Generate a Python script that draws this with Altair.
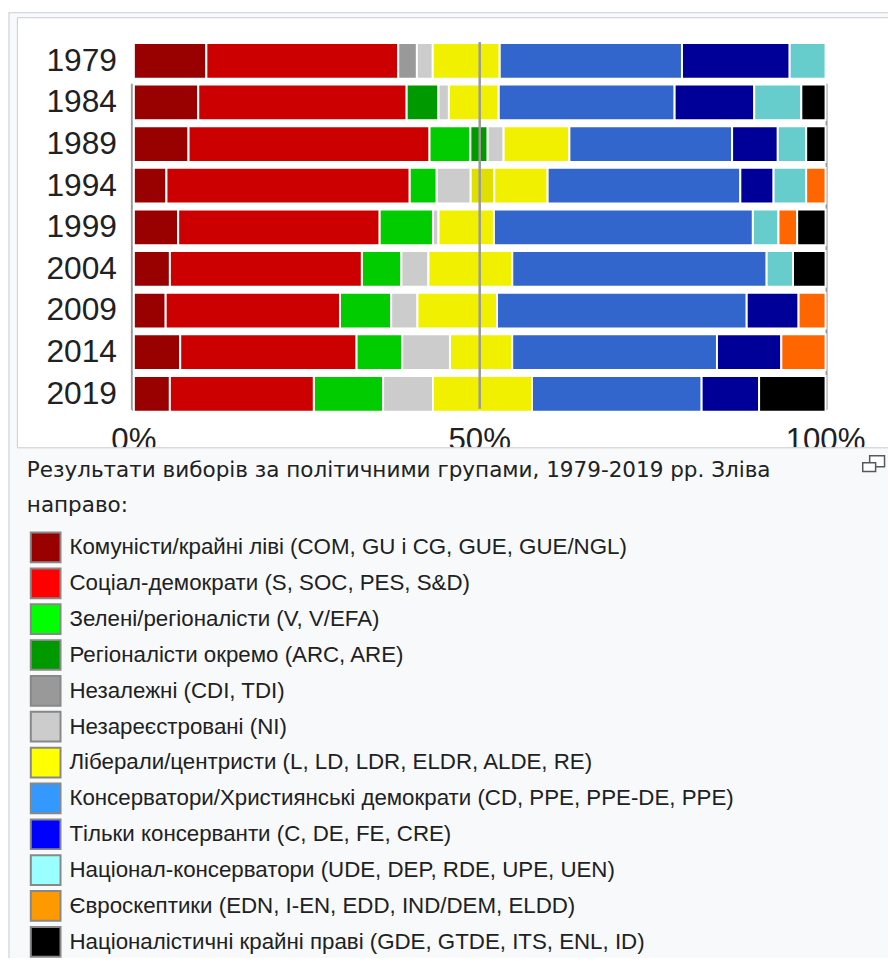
import altair as alt
import pandas as pd

# ---------------- data ----------------
years = ["1979", "1984", "1989", "1994", "1999", "2004", "2009", "2014", "2019"]

group_keys = ["COM", "SOC", "GRN", "REG", "IND", "NI", "ERA", "LIB", "EPP", "CON", "NAT", "EUR", "FAR"]

COM = [10.5, 9.3, 7.9, 4.7, 6.4, 5.2, 4.6, 6.7, 5.2]
SOC = [27.8, 30.1, 34.8, 35.1, 29.1, 27.7, 25.2, 25.5, 20.8]
GRN = [0.0, 0.0, 5.9, 3.9, 7.7, 5.7, 7.4, 6.6, 10.0]
REG = [0.0, 4.6, 2.5, 0.0, 0.0, 0.0, 0.0, 0.0, 0.0]
IND = [2.7, 0.0, 0.0, 0.0, 0.0, 0.0, 0.0, 0.0, 0.0]
NI = [2.3, 1.5, 2.3, 4.9, 0.8, 3.9, 3.8, 6.9, 7.2]
ERA = [0.0, 0.0, 0.0, 3.4, 0.0, 0.0, 0.0, 0.0, 0.0]
LIB = [9.7, 7.2, 9.5, 7.7, 8.0, 12.1, 11.5, 9.0, 14.3]
EPP = [26.4, 25.4, 23.5, 27.8, 37.4, 36.7, 36.1, 29.6, 24.5]
CON = [15.6, 11.5, 6.6, 4.8, 0.0, 0.0, 7.5, 9.3, 8.3]
NAT = [5.2, 6.8, 4.1, 4.7, 3.7, 3.8, 0.0, 0.0, 0.0]
EUR = [0.0, 0.0, 0.0, 2.8, 2.7, 0.0, 3.9, 6.4, 0.0]
FAR = [0.0, 3.5, 2.8, 0.0, 4.1, 4.7, 0.0, 0.0, 9.6]

series = [COM, SOC, GRN, REG, IND, NI, ERA, LIB, EPP, CON, NAT, EUR, FAR]

bar_colors = ["#990000", "#CC0000", "#00CC00", "#009900", "#999999", "#CCCCCC",
              "#E0E000", "#F0F000", "#3366CC", "#000099", "#66CCCC", "#FF6600", "#000000"]

legend_labels = [
    "Комуністи/крайні ліві (COM, GU і CG, GUE, GUE/NGL)",
    "Соціал-демократи (S, SOC, PES, S&D)",
    "Зелені/регіоналісти (V, V/EFA)",
    "Регіоналісти окремо (ARC, ARE)",
    "Незалежні (CDI, TDI)",
    "Незареєстровані (NI)",
    "Ліберали/центристи (L, LD, LDR, ELDR, ALDE, RE)",
    "Консерватори/Християнські демократи (CD, PPE, PPE-DE, PPE)",
    "Тільки консерванти (C, DE, FE, CRE)",
    "Націонал-консерватори (UDE, DEP, RDE, UPE, UEN)",
    "Євроскептики (EDN, I-EN, EDD, IND/DEM, ELDD)",
    "Націоналістичні крайні праві (GDE, GTDE, ITS, ENL, ID)",
]
legend_colors = ["#990000", "#FF0000", "#00FF00", "#009900", "#999999", "#CCCCCC",
                 "#FFFF00", "#3399FF", "#0000FF", "#99FFFF", "#FF9900", "#000000"]

tick_values = [0, 0.5, 1]
tick_labels = ["0%", "50%", "100%"]
mid_value = [0.5]

caption_text = "Результати виборів за політичними групами, 1979-2019 рр. Зліва\nнаправо:"

# ---------------- tables ----------------
rows = []
for gi, (g, vals) in enumerate(zip(group_keys, series)):
    for yi, (y, v) in enumerate(zip(years, vals)):
        if v > 0:
            rows.append({"year": y, "yi": yi, "group": g, "pct": v, "ord": gi})
bar_df = pd.DataFrame(rows)
year_df = pd.DataFrame({"year": years, "yi": list(range(len(years)))})
leg_df = pd.DataFrame({"i": list(range(len(legend_labels))), "label": legend_labels})
tick_df = pd.DataFrame({"t": tick_values, "lab": tick_labels})
mid_df = pd.DataFrame({"m": mid_value})
cap_df = pd.DataFrame({"line": [caption_text]})
one = pd.DataFrame({"a": [0]})

W = 888
H = 950
CUT = 439          # bottom edge of the picture box / top of caption box
FONT = "Liberation Sans"
TXT = "#202122"
BORDER = "#c8ccd1"
PANEL = "#f8f9fa"

xscale = alt.Scale(domain=[0, 1], range=[127, 825], nice=False, zero=False, padding=0)
yscale = alt.Scale(domain=[0, 8], range=[49, 385], nice=False, zero=False, padding=0)
lscale = alt.Scale(domain=[0, 11], range=[540, 938], nice=False, zero=False, padding=0)


def box(x1, x2, y1, y2, **kw):
    return alt.Chart(one).mark_rect(**kw).encode(
        x=alt.value(x1), x2=alt.value(x2), y=alt.value(y1), y2=alt.value(y2))


def rule(x1, x2, y1, y2, color, w):
    return alt.Chart(one).mark_rule(color=color, strokeWidth=w).encode(
        x=alt.value(x1), x2=alt.value(x2), y=alt.value(y1), y2=alt.value(y2))


bars = alt.Chart(bar_df).mark_bar(
    orient="horizontal", size=36, stroke="white", strokeWidth=2
).encode(
    x=alt.X("pct:Q", stack="normalize", scale=xscale, axis=None),
    y=alt.Y("yi:Q", scale=yscale, axis=None),
    color=alt.Color("group:N", scale=alt.Scale(domain=group_keys, range=bar_colors), legend=None),
    order=alt.Order("ord:Q", sort="ascending"),
    detail="year:N",
)

mid = alt.Chart(mid_df).mark_rule(color="#999999", strokeWidth=2.5).encode(
    x=alt.X("m:Q", scale=xscale, axis=None), y=alt.value(30), y2=alt.value(400))

year_text = alt.Chart(year_df).mark_text(
    align="right", baseline="middle", fontSize=32, font=FONT, color=TXT
).encode(x=alt.value(110), y=alt.Y("yi:Q", scale=yscale, axis=None), text="year:N")

tick_text = alt.Chart(tick_df).mark_text(
    align="center", baseline="alphabetic", fontSize=31.5, font=FONT, color=TXT
).encode(x=alt.X("t:Q", scale=xscale, axis=None), y=alt.value(442), text="lab:N")

cap_text = alt.Chart(cap_df).mark_text(
    align="left", baseline="middle", fontSize=21.7, font="DejaVu Sans", color=TXT,
    lineBreak="\n", lineHeight=35
).encode(x=alt.value(19), y=alt.value(462), text="line:N")

picture = alt.layer(
    box(0, 900, 0, 1000, fill=PANEL, strokeWidth=0),
    rule(1, 1, 0, 1000, BORDER, 1),
    rule(1, 900, 0.5, 0.5, BORDER, 1),
    box(9.5, 900, 5.5, CUT, fill="#ffffff", strokeWidth=0),
    rule(9.5, 9.5, 5.5, CUT, BORDER, 1),
    rule(9.5, 900, 5.5, 5.5, BORDER, 1),
    rule(125, 125, 72, 401, "#999999", 2),
    rule(826, 826, 72, 401, "#999999", 2),
    rule(125, 826, 401, 401, "#999999", 2),
    bars,
    mid,
    year_text,
    tick_text,
    box(9, 900, CUT, 1000, fill=PANEL, strokeWidth=0),
    rule(9, 900, CUT + 0.5, CUT + 0.5, BORDER, 1),
    box(869.5, 884.5, 447.5, 458.5, fill="#ffffff", stroke="#54595d", strokeWidth=1.5),
    box(862.5, 875.5, 454.5, 463.5, fill="#ffffff", stroke="#54595d", strokeWidth=1.5),
    cap_text,
)

swatches = alt.Chart(leg_df).mark_square(
    size=900, stroke="#888888", strokeWidth=2, opacity=1
).encode(
    x=alt.value(38),
    y=alt.Y("i:Q", scale=lscale, axis=None),
    fill=alt.Fill("label:N", scale=alt.Scale(domain=legend_labels, range=legend_colors), legend=None),
)

leg_text = alt.Chart(leg_df).mark_text(
    align="left", baseline="middle", fontSize=22.5, font=FONT, color=TXT
).encode(x=alt.value(62), y=alt.Y("i:Q", scale=lscale, axis=None), text="label:N")

legend = alt.layer(swatches, leg_text)

chart = alt.layer(picture, legend).resolve_scale(y="independent").properties(
    width=W, height=H, padding=0, autosize=alt.AutoSizeParams(type="none"), background="#ffffff"
).configure_view(stroke=None)

chart.save("out.html", embed_options={"renderer": "svg", "actions": False})
